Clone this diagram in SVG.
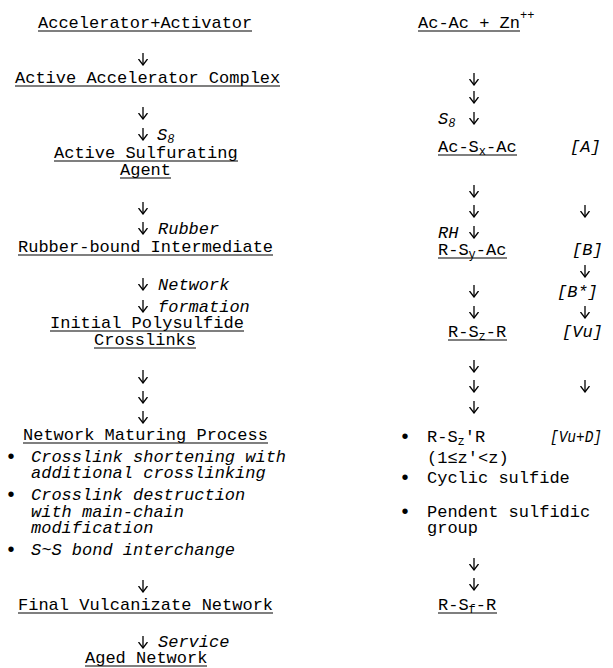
<svg xmlns="http://www.w3.org/2000/svg" width="613" height="668" viewBox="0 0 613 668">
<defs>
<style>
text{font-family:"Liberation Mono","Courier New",monospace;font-size:17px;fill:#000}
.it{font-style:italic}
.sub{font-size:12px}
.bul{font-size:20px;text-anchor:middle}
.ul{stroke:#000;stroke-width:1.1}
.ar{fill:none;stroke:#000;stroke-width:1.3}
</style>
<marker id="ah" viewBox="0 0 7 10" refX="6.5" refY="5" markerWidth="7" markerHeight="10" markerUnits="userSpaceOnUse" orient="auto">
<path d="M0.5,0.5 L6.5,5 L0.5,9.5" fill="none" stroke="#000" stroke-width="1.3"/>
</marker>
</defs>
<rect width="613" height="668" fill="#fff"/>

<g id="connectors">
<g class="ar" marker-end="url(#ah)">
<path d="M143,53 V65"/>
<path d="M143,107 V119"/>
<path d="M143,128 V140"/>
<path d="M143,202 V214"/>
<path d="M143,222 V234"/>
<path d="M143,278 V290"/>
<path d="M143,300 V312"/>
<path d="M143,370 V383"/>
<path d="M143,391 V403"/>
<path d="M143,411 V423"/>
<path d="M143,580 V592"/>
<path d="M143,636 V648"/>
<path d="M474,73 V85"/>
<path d="M474,91 V103"/>
<path d="M474,112 V124"/>
<path d="M474,185 V197"/>
<path d="M474,205 V217"/>
<path d="M585,205 V217"/>
<path d="M474,226 V238"/>
<path d="M585,265 V277"/>
<path d="M474,285 V297"/>
<path d="M474,306 V318"/>
<path d="M585,306 V318"/>
<path d="M474,360 V372"/>
<path d="M474,380 V392"/>
<path d="M585,380 V392"/>
<path d="M474,401 V413"/>
<path d="M474,558 V570"/>
<path d="M474,578 V590"/>
</g>
</g>

<g id="labels">
<text class="it" x="157" y="140">S<tspan class="sub" dy="3">8</tspan></text>
<text class="it" x="158" y="234">Rubber</text>
<text class="it" x="158" y="290">Network</text>
<text class="it" x="158" y="312">formation</text>
<text class="it" x="158" y="647">Service</text>
<text class="it" x="438" y="124">S<tspan class="sub" dy="3">8</tspan></text>
<text class="it" x="438" y="238">RH</text>
<text class="it" x="570" y="152">[A]</text>
<text class="it" x="572" y="255">[B]</text>
<text class="it" x="557" y="297">[B*]</text>
<text class="it" x="562" y="337">[Vu]</text>
<text class="it" x="550" y="442" textLength="52" lengthAdjust="spacingAndGlyphs">[Vu+D]</text>
</g>

<g id="accelerator-activator">
<text x="38" y="28">Accelerator+Activator</text>
<line class="ul" x1="38" y1="31" x2="252" y2="31"/>
</g>
<g id="active-accelerator-complex">
<text x="15" y="83">Active Accelerator Complex</text>
<line class="ul" x1="15" y1="86" x2="280" y2="86"/>
</g>
<g id="active-sulfurating-agent">
<text x="54" y="158">Active Sulfurating</text>
<line class="ul" x1="54" y1="161" x2="238" y2="161"/>
<text x="120" y="175">Agent</text>
<line class="ul" x1="120" y1="178" x2="171" y2="178"/>
</g>
<g id="rubber-bound-intermediate">
<text x="18" y="252">Rubber-bound Intermediate</text>
<line class="ul" x1="18" y1="255" x2="273" y2="255"/>
</g>
<g id="initial-polysulfide-crosslinks">
<text x="50" y="328">Initial Polysulfide</text>
<line class="ul" x1="50" y1="331" x2="244" y2="331"/>
<text x="94" y="345">Crosslinks</text>
<line class="ul" x1="94" y1="348" x2="196" y2="348"/>
</g>
<g id="network-maturing-process">
<text x="23" y="440">Network Maturing Process</text>
<line class="ul" x1="23" y1="443" x2="268" y2="443"/>
<text class="bul" x="11" y="463">•</text>
<text class="it" x="31" y="462">Crosslink shortening with</text>
<text class="it" x="31" y="478">additional crosslinking</text>
<text class="bul" x="11" y="501">•</text>
<text class="it" x="31" y="500">Crosslink destruction</text>
<text class="it" x="31" y="517">with main-chain</text>
<text class="it" x="31" y="533">modification</text>
<text class="bul" x="11" y="556">•</text>
<text class="it" x="31" y="555">S~S bond interchange</text>
</g>
<g id="final-vulcanizate-network">
<text x="18" y="610">Final Vulcanizate Network</text>
<line class="ul" x1="18" y1="613" x2="273" y2="613"/>
</g>
<g id="aged-network">
<text x="85" y="663">Aged Network</text>
<line class="ul" x1="85" y1="666" x2="207" y2="666"/>
</g>

<g id="ac-ac-zn">
<text x="418" y="28">Ac-Ac + Zn<tspan class="sub" dy="-9">++</tspan></text>
<line class="ul" x1="418" y1="31" x2="520" y2="31"/>
</g>
<g id="ac-sx-ac">
<text x="438" y="152">Ac-S<tspan class="sub" dy="3">x</tspan><tspan dy="-3">-Ac</tspan></text>
<line class="ul" x1="438" y1="155" x2="517" y2="155"/>
</g>
<g id="r-sy-ac">
<text x="438" y="255">R-S<tspan class="sub" dy="3">y</tspan><tspan dy="-3">-Ac</tspan></text>
<line class="ul" x1="438" y1="258" x2="507" y2="258"/>
</g>
<g id="r-sz-r">
<text x="448" y="337">R-S<tspan class="sub" dy="3">z</tspan><tspan dy="-3">-R</tspan></text>
<line class="ul" x1="448" y1="340" x2="507" y2="340"/>
</g>
<g id="products">
<text class="bul" x="405" y="443">•</text>
<text x="427" y="442">R-S<tspan class="sub" dy="3">z</tspan><tspan dy="-3">'R</tspan></text>
<text x="427" y="463">(1≤z'&lt;z)</text>
<text class="bul" x="405" y="484">•</text>
<text x="427" y="483">Cyclic sulfide</text>
<text class="bul" x="405" y="518">•</text>
<text x="427" y="517">Pendent sulfidic</text>
<text x="427" y="533">group</text>
</g>
<g id="r-sf-r">
<text x="438" y="610">R-S<tspan class="sub" dy="3">f</tspan><tspan dy="-3">-R</tspan></text>
<line class="ul" x1="438" y1="613" x2="497" y2="613"/>
</g>
</svg>
